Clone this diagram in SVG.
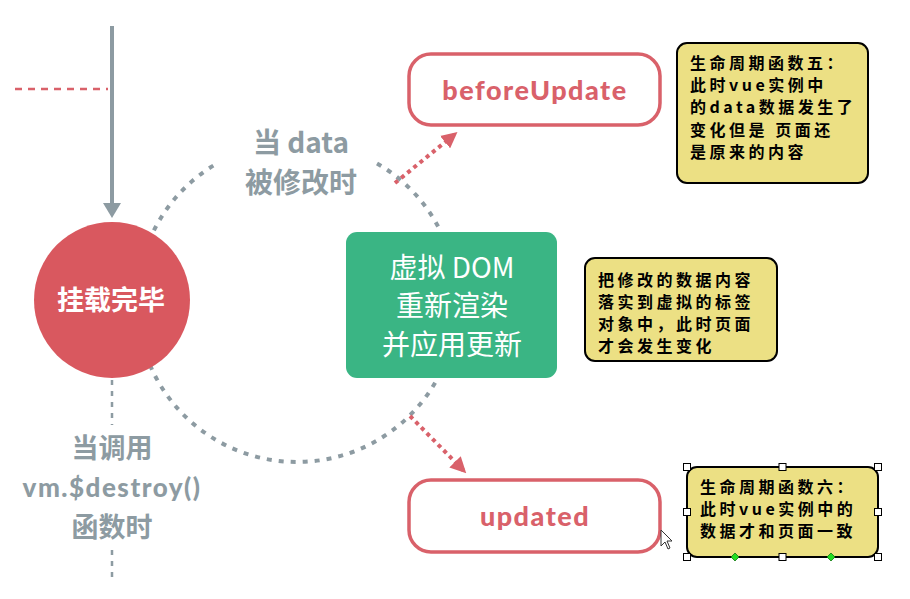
<svg xmlns="http://www.w3.org/2000/svg" width="910" height="599" viewBox="0 0 910 599">
<defs>
<style>
.gray{fill:#8d9ba2;font-family:"Noto Sans CJK SC","Noto Sans",sans-serif;font-weight:700;text-anchor:middle}
.redbox{fill:#fff;stroke:#d9616a;stroke-width:3.5}
.redtxt{fill:#d9616a;font-family:"Lato","Noto Sans",sans-serif;font-weight:900;font-size:27px;letter-spacing:1.5px;text-anchor:middle}
.wht{fill:#fff;font-family:"Noto Sans CJK SC",sans-serif;text-anchor:middle}
.note{fill:#ece084;stroke:#000;stroke-width:2}
.nt{fill:#000;font-family:"Noto Sans CJK SC","SimHei",sans-serif;font-weight:700;font-size:16px;letter-spacing:3.5px}
.h{fill:#fff;stroke:#000;stroke-width:1}
.g{fill:#22dd22;stroke:#117711;stroke-width:0.8}
</style>
<marker id="ar" viewBox="0 0 10 10" refX="8" refY="5" markerWidth="4" markerHeight="4" orient="auto"><path d="M0,0 L10,5 L0,10 z" fill="#d9616a"/></marker>
</defs>
<g id="connectors">
<line x1="112" y1="26" x2="112" y2="203" stroke="#8d9ba2" stroke-width="4"/>
<path d="M103,203 L121,203 L112,218 z" fill="#8d9ba2"/>
<line x1="15" y1="89" x2="108" y2="89" stroke="#d9616a" stroke-width="2.5" stroke-dasharray="7,6"/>
<path d="M377,163.4 A160 160 0 1 1 217,163.4" fill="none" stroke="#8d9ba2" stroke-width="4" stroke-dasharray="5,7"/>
<line x1="112" y1="380" x2="112" y2="425" stroke="#8d9ba2" stroke-width="2.5" stroke-dasharray="5,6"/>
<line x1="112" y1="550" x2="112" y2="580" stroke="#8d9ba2" stroke-width="2.5" stroke-dasharray="5,6"/>
<line x1="395" y1="183" x2="455" y2="134" stroke="#d9616a" stroke-width="4" stroke-dasharray="4,4" marker-end="url(#ar)"/>
<line x1="410" y1="416" x2="464" y2="471" stroke="#d9616a" stroke-width="4" stroke-dasharray="4,4" marker-end="url(#ar)"/>
</g>
<g id="mounted">
<circle cx="112" cy="300" r="78" fill="#d9585f"/>
<text class="wht" x="111" y="310" font-size="27" font-weight="700">挂载完毕</text>
</g>
<g id="label-data">
<text class="gray" x="301" y="153" font-size="28">当 data</text>
<text class="gray" x="301" y="193" font-size="28">被修改时</text>
</g>
<g id="label-destroy">
<text class="gray" x="112" y="458" font-size="27">当调用</text>
<text class="gray" x="112" y="497" font-size="26" style="font-family:'Lato','Noto Sans',sans-serif;font-weight:900;letter-spacing:1.5px">vm.$destroy()</text>
<text class="gray" x="112" y="537" font-size="27">函数时</text>
</g>
<g id="beforeUpdate">
<rect class="redbox" x="409" y="54" width="251" height="71" rx="22"/>
<text class="redtxt" x="535" y="100">beforeUpdate</text>
</g>
<g id="updated">
<rect class="redbox" x="409" y="480" width="251" height="72" rx="22"/>
<text class="redtxt" x="535" y="526">updated</text>
</g>
<g id="vdom">
<rect x="346" y="232" width="211" height="146" rx="11" fill="#3ab584"/>
<text class="wht" x="452" y="278" font-size="28">虚拟 DOM</text>
<text class="wht" x="452" y="316" font-size="28">重新渲染</text>
<text class="wht" x="452" y="355" font-size="28">并应用更新</text>
</g>
<g id="note5">
<rect class="note" x="677" y="43" width="191" height="140" rx="10"/>
<text class="nt" x="690" y="69">生命周期函数五：</text>
<text class="nt" x="690" y="91">此时vue实例中</text>
<text class="nt" x="690" y="113">的data数据发生了</text>
<text class="nt" x="690" y="136">变化但是 页面还</text>
<text class="nt" x="690" y="158">是原来的内容</text>
</g>
<g id="note-vdom">
<rect class="note" x="585" y="258" width="192" height="103" rx="10"/>
<text class="nt" x="598" y="286">把修改的数据内容</text>
<text class="nt" x="598" y="308">落实到虚拟的标签</text>
<text class="nt" x="598" y="330">对象中，此时页面</text>
<text class="nt" x="598" y="352">才会发生变化</text>
</g>
<g id="note6">
<rect class="note" x="687" y="467" width="191" height="90" rx="10"/>
<text class="nt" x="700" y="493">生命周期函数六：</text>
<text class="nt" x="700" y="515">此时vue实例中的</text>
<text class="nt" x="700" y="537">数据才和页面一致</text>
<rect class="h" x="683.5" y="463.5" width="7" height="7"/>
<rect class="h" x="779" y="463.5" width="7" height="7"/>
<rect class="h" x="874.5" y="463.5" width="7" height="7"/>
<rect class="h" x="683.5" y="508.5" width="7" height="7"/>
<rect class="h" x="874.5" y="508.5" width="7" height="7"/>
<rect class="h" x="683.5" y="553.5" width="7" height="7"/>
<rect class="h" x="779" y="553.5" width="7" height="7"/>
<rect class="h" x="874.5" y="553.5" width="7" height="7"/>
<path class="g" d="M735,553 L739,557 L735,561 L731,557 z"/>
<path class="g" d="M831,553 L835,557 L831,561 L827,557 z"/>
</g>
<path d="M661,530 L661,546 L665,542 L668,549 L670,548 L667,541 L672,541 z" fill="#fff" stroke="#333" stroke-width="1"/>
</svg>
